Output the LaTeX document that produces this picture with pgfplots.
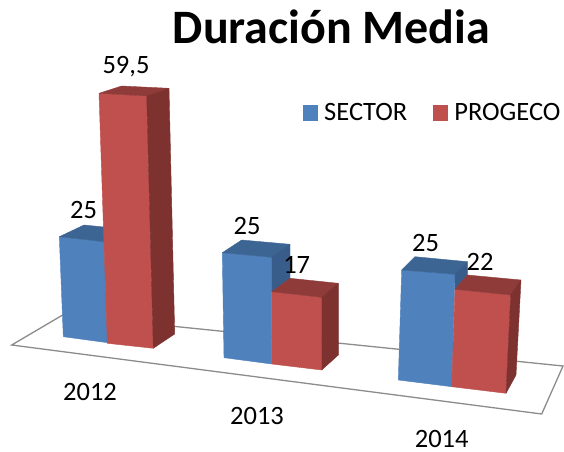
\documentclass[border=0pt]{standalone}
\usepackage{fontspec}
\setmainfont{Carlito}
\usepackage{pgfplots}
\pgfplotsset{compat=1.18}
\definecolor{bfront}{HTML}{4F81BD}
\definecolor{btop}{HTML}{3D6594}
\definecolor{bside}{HTML}{385D8A}
\definecolor{rfront}{HTML}{C0504D}
\definecolor{rtop}{HTML}{8E3B39}
\definecolor{rside}{HTML}{7D3230}
\definecolor{floorline}{HTML}{8C8C8C}
\pgfplotsset{
  face/.style={fill=#1, draw=#1, line width=0.4bp, line join=round, forget plot},
  lab/.style={only marks, mark=none, forget plot, point meta=explicit symbolic,
    nodes near coords, nodes near coords align={anchor=center},
    every node near coord/.append style={font=\fontsize{26.5bp}{26.5bp}\selectfont, inner sep=0pt, text=black}},
}
\begin{document}
\begin{tikzpicture}
\begin{axis}[
  width=564bp, height=452bp, scale only axis,
  xmin=0, xmax=564, ymin=0, ymax=452, y dir=reverse,
  axis lines=none, clip=false,
  legend columns=2,
  legend style={at={(axis cs:303,113)}, anchor=west, draw=none, fill=none, inner sep=0pt,
    font=\fontsize{26.5bp}{26.5bp}\selectfont,
    /tikz/every even column/.append style={column sep=24bp}},
  legend cell align=left,
  legend image code/.code={\fill[#1, draw=none] (0bp,-7.5bp) rectangle (15bp,7.5bp); \path[draw=none, fill=none] (0bp,0bp) -- (19bp,0bp);},
]
% keeps the whole page in the picture
\addplot[draw=none, forget plot] coordinates {(0,0)(564,0)(564,452)(0,452)} -- cycle;

% floor
\addplot[draw=floorline, line width=1.3bp, fill=white, forget plot] coordinates {(11.7,345)(62.7,315)(563,366)(541.7,414)} -- cycle;

% 2012
\addplot[face=bfront] coordinates {(59.3,236.7)(104,241.7)(107.5,342.7)(63.3,336.7)} -- cycle;
\addplot[face=btop] coordinates {(59.3,236.7)(84,225)(104,227)(104,241.7)} -- cycle;
\addplot[face=rfront] coordinates {(99,93.3)(146.7,96)(153.3,348.3)(107.3,343.3)} -- cycle;
\addplot[face=rtop] coordinates {(99,93.3)(121.7,86)(169,88.3)(146.7,96)} -- cycle;
\addplot[face=rside] coordinates {(146.7,96)(169,88.3)(174.7,334)(153.3,348.3)} -- cycle;

% 2013
\addplot[face=bfront] coordinates {(222.3,252.7)(271.7,257.3)(271.7,364)(224,357.7)} -- cycle;
\addplot[face=btop] coordinates {(222.3,252.7)(241.7,240)(290,244.3)(271.7,257.3)} -- cycle;
\addplot[face=bside] coordinates {(271.7,257.3)(290,244.3)(290,278.3)(271.7,291.7)} -- cycle;
\addplot[face=rfront] coordinates {(271.7,291.7)(321.7,297.3)(321.7,370)(271.7,364)} -- cycle;
\addplot[face=rtop] coordinates {(271.7,291.7)(290,278.3)(338.3,283.3)(321.7,297.3)} -- cycle;
\addplot[face=rside] coordinates {(321.7,297.3)(338.3,283.3)(338.3,355)(321.7,370)} -- cycle;

% 2014
\addplot[face=bfront] coordinates {(401.7,270)(455,274.3)(451.7,386.7)(398.3,380)} -- cycle;
\addplot[face=btop] coordinates {(401.7,270)(415,256.7)(467.3,261.7)(455,274.3)} -- cycle;
\addplot[face=bside] coordinates {(455,274.3)(467.3,261.7)(467.3,275)(455,289.3)} -- cycle;
\addplot[face=rfront] coordinates {(455,289.3)(510.7,295)(506,393.3)(451.7,386.7)} -- cycle;
\addplot[face=rtop] coordinates {(455,289.3)(467.3,275)(521,280)(510.7,295)} -- cycle;
\addplot[face=rside] coordinates {(510.7,295)(521,280)(516,375)(506,393.3)} -- cycle;

% value labels and years
\addplot[lab] coordinates {(83.5,210)[25] (126,67)[{59,5}] (247,226)[25] (296.7,265)[17] (425.5,243)[25] (480,262)[22]};
\addplot[lab] coordinates {(90,392)[2012] (257,416)[2013] (441.7,438.5)[2014]};

% title
\addplot[only marks, mark=none, forget plot, point meta=explicit symbolic,
  nodes near coords, nodes near coords align={anchor=center},
  every node near coord/.append style={font=\fontsize{48bp}{48bp}\selectfont\bfseries, inner sep=0pt, text=black}]
  coordinates {(331.5,27)[Duración Media]};

\addlegendimage{fill=bfront}
\addlegendentry{SECTOR}
\addlegendimage{fill=rfront}
\addlegendentry{PROGECO}
\end{axis}
\end{tikzpicture}
\end{document}
